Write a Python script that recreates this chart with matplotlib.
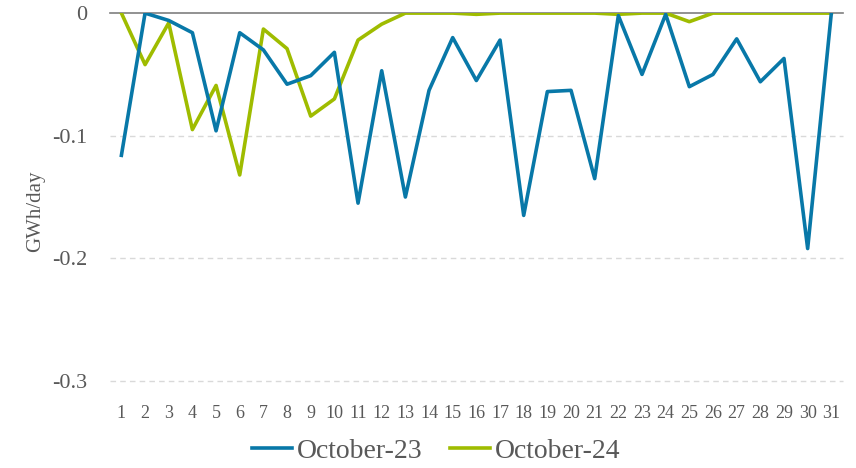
import matplotlib.pyplot as plt

days = list(range(1, 32))
oct23 = [-0.116, 0.0, -0.006, -0.016, -0.096, -0.016, -0.030, -0.058, -0.051, -0.032,
         -0.155, -0.047, -0.150, -0.063, -0.020, -0.055, -0.022, -0.165, -0.064, -0.063,
         -0.135, -0.002, -0.050, -0.001, -0.060, -0.050, -0.021, -0.056, -0.037, -0.192,
         0.0]
oct24 = [0.0, -0.042, -0.008, -0.095, -0.059, -0.132, -0.013, -0.029, -0.084, -0.070,
         -0.022, -0.009, 0.0, 0.0, 0.0, -0.001, 0.0, 0.0, 0.0, 0.0,
         0.0, -0.001, 0.0, 0.0, -0.007, 0.0, 0.0, 0.0, 0.0, 0.0,
         0.0]
yticks = [0, -0.1, -0.2, -0.3]
ytick_labels = ['0', '-0.1', '-0.2', '-0.3']

plt.rcParams['font.family'] = ['Liberation Serif', 'DejaVu Serif']

fig = plt.figure(figsize=(8.56, 4.68), dpi=100)
ax = fig.add_axes([0.128, 0.186, 0.857, 0.786])

# grid lines first so the series sit on top
for t in yticks[1:]:
    ax.axhline(t, color='#d9d9d9', lw=1, ls=(0, (4, 3)), zorder=0, clip_on=False)
ax.axhline(0, color='#7f7f7f', lw=1.2, zorder=1, clip_on=False)

ax.plot(days, oct23, color='#0878a8', lw=2.6, label='October-23', zorder=3)
ax.plot(days, oct24, color='#9fbc00', lw=2.6, label='October-24', zorder=2)

ax.set_xlim(0.5, 31.5)
ax.set_ylim(-0.3, 0)
ax.set_xticks(days)
ax.set_xticklabels([str(d) for d in days], fontsize=13, color='#595959')
ax.set_yticks(yticks)
ax.set_yticklabels(ytick_labels, fontsize=16, color='#595959')
ax.tick_params(axis='x', length=0, pad=17)
ax.tick_params(axis='y', length=0, pad=16)
for s in ax.spines.values():
    s.set_visible(False)
ax.set_ylabel('GWh/day', fontsize=15, color='#595959')
ax.yaxis.set_label_coords(-0.088, 0.46)

ax.legend(loc='center', bbox_to_anchor=(0.445, -0.19), ncol=2, frameon=False,
          fontsize=20, handlelength=1.45, handletextpad=0.15, columnspacing=1.0,
          labelcolor='#595959')

fig.savefig('out.png', dpi=100)
